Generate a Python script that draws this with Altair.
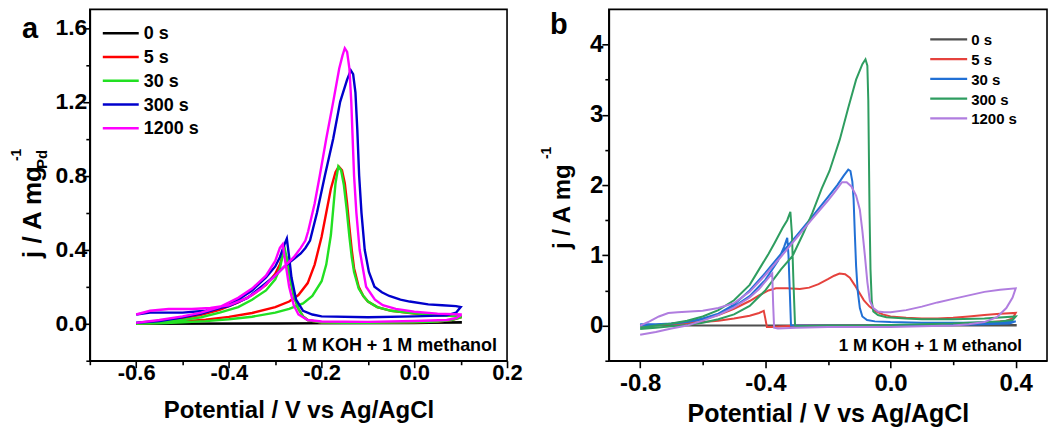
import altair as alt
import pandas as pd

FONT = "Liberation Sans"
SERIES = ["0 s", "5 s", "30 s", "300 s", "1200 s"]
COLORS_A = ["#000000", "#ff0000", "#22e022", "#0000cc", "#ff00ff"]
COLORS_B = ["#4f4f4f", "#e5423d", "#2170d5", "#2e9d60", "#b07ddf"]

# ---------------- panel a : 1 M KOH + 1 M methanol (potential V, j A/mg) ----------------
a0_v = [-0.6, -0.3, 0.0, 0.1, 0.1, -0.3, -0.6]
a0_j = [0.0, 0.002, 0.004, 0.008, 0.006, 0.001, 0.0]

a5_v = [-0.6, -0.55, -0.5, -0.45, -0.4, -0.35, -0.3, -0.27, -0.25, -0.23, -0.215, -0.2, -0.19, -0.18,
        -0.17, -0.163, -0.156, -0.15, -0.145, -0.14, -0.135, -0.13, -0.12, -0.11, -0.1, -0.08, -0.05,
        0.0, 0.05, 0.1,
        0.1, 0.08, 0.05, 0.0, -0.05, -0.1, -0.15, -0.2, -0.23, -0.24, -0.25, -0.26, -0.27, -0.276,
        -0.28, -0.285, -0.29, -0.3, -0.32, -0.35, -0.38, -0.42, -0.46, -0.5, -0.55, -0.6]
a5_j = [0.0, 0.005, 0.012, 0.022, 0.037, 0.058, 0.09, 0.12, 0.155, 0.22, 0.32, 0.47, 0.6, 0.73,
        0.82, 0.85, 0.83, 0.76, 0.65, 0.52, 0.4, 0.3, 0.2, 0.15, 0.12, 0.09, 0.07,
        0.055, 0.045, 0.04,
        0.035, 0.02, 0.012, 0.008, 0.006, 0.005, 0.005, 0.006, 0.02, 0.04, 0.08, 0.15, 0.27, 0.36,
        0.38, 0.36, 0.32, 0.27, 0.21, 0.155, 0.115, 0.075, 0.048, 0.03, 0.012, 0.0]

a30_v = [-0.6, -0.55, -0.5, -0.45, -0.4, -0.35, -0.3, -0.27, -0.24, -0.22, -0.2, -0.19, -0.18, -0.175,
         -0.17, -0.164, -0.158, -0.152, -0.146, -0.14, -0.135, -0.13, -0.12, -0.11, -0.1, -0.08, -0.05,
         0.0, 0.05, 0.1,
         0.1, 0.08, 0.05, 0.0, -0.05, -0.1, -0.15, -0.2, -0.23, -0.24, -0.25, -0.26, -0.27, -0.275,
         -0.279, -0.284, -0.29, -0.3, -0.32, -0.35, -0.38, -0.42, -0.46, -0.5, -0.55, -0.6]
a30_j = [0.0, 0.003, 0.008, 0.014, 0.024, 0.038, 0.06, 0.08, 0.11, 0.15, 0.23, 0.32, 0.48, 0.62,
         0.76, 0.85, 0.83, 0.75, 0.62, 0.47, 0.36, 0.28, 0.19, 0.15, 0.12, 0.09, 0.07,
         0.056, 0.046, 0.04,
         0.035, 0.02, 0.012, 0.008, 0.006, 0.005, 0.005, 0.006, 0.02, 0.04, 0.08, 0.15, 0.27, 0.35,
         0.40, 0.37, 0.3, 0.24, 0.18, 0.13, 0.09, 0.06, 0.035, 0.02, 0.008, 0.0]

a300_v = [-0.6, -0.57, -0.54, -0.5, -0.45, -0.4, -0.36, -0.33, -0.3, -0.28, -0.26, -0.245, -0.235,
          -0.225, -0.21, -0.193, -0.175, -0.16, -0.145, -0.137, -0.132, -0.127, -0.123, -0.119, -0.114,
          -0.107, -0.098, -0.086, -0.07, -0.054, -0.03, -0.01, 0.03, 0.06, 0.09, 0.1,
          0.1, 0.09, 0.07, 0.0, -0.1, -0.2, -0.22, -0.24, -0.255, -0.265, -0.27, -0.275, -0.28, -0.29,
          -0.3, -0.32, -0.35, -0.38, -0.42, -0.46, -0.5, -0.55, -0.6]
a300_j = [0.05, 0.06, 0.06, 0.06, 0.07, 0.095, 0.14, 0.2, 0.26, 0.31, 0.35, 0.38, 0.41,
          0.45, 0.6, 0.8, 1.0, 1.2, 1.32, 1.37, 1.35, 1.25, 1.05, 0.8, 0.6,
          0.4, 0.28, 0.2, 0.17, 0.15, 0.13, 0.12, 0.105, 0.1, 0.095, 0.09,
          0.09, 0.06, 0.045, 0.04, 0.035, 0.04, 0.05, 0.07, 0.13, 0.25, 0.36, 0.46, 0.43, 0.36,
          0.31, 0.25, 0.18, 0.13, 0.085, 0.055, 0.035, 0.015, 0.005]

a1200_v = [-0.6, -0.57, -0.53, -0.48, -0.44, -0.4, -0.36, -0.33, -0.3, -0.28, -0.26, -0.245, -0.235,
           -0.229, -0.215, -0.204, -0.19, -0.175, -0.162, -0.155, -0.15, -0.145, -0.14, -0.136, -0.133,
           -0.13, -0.125, -0.118, -0.104, -0.085, -0.068, -0.04, 0.0, 0.05, 0.1,
           0.1, 0.09, 0.07, 0.0, -0.1, -0.2, -0.23, -0.25, -0.26, -0.27, -0.278, -0.284, -0.29, -0.3,
           -0.32, -0.35, -0.38, -0.42, -0.46, -0.5, -0.55, -0.6]
a1200_j = [0.05, 0.07, 0.08, 0.08, 0.085, 0.1, 0.14, 0.19, 0.26, 0.31, 0.36, 0.41, 0.45,
           0.5, 0.65, 0.8, 1.0, 1.2, 1.38, 1.45, 1.49, 1.47, 1.38, 1.2, 1.0,
           0.8, 0.6, 0.4, 0.2, 0.13, 0.1, 0.08, 0.065, 0.055, 0.05,
           0.045, 0.03, 0.02, 0.015, 0.01, 0.012, 0.02, 0.05, 0.1, 0.2, 0.33, 0.43, 0.41, 0.34,
           0.26, 0.19, 0.14, 0.09, 0.06, 0.04, 0.02, 0.005]

# ---------------- panel b : 1 M KOH + 1 M ethanol ----------------
b0_v = [-0.8, -0.4, 0.0, 0.4, 0.4, 0.0, -0.8]
b0_j = [0.0, 0.0, 0.0, 0.01, 0.0, 0.0, 0.0]

b5_v = [-0.8, -0.75, -0.7, -0.65, -0.6, -0.55, -0.5, -0.45, -0.42, -0.39, -0.366, -0.33, -0.29, -0.26,
        -0.23, -0.2, -0.18, -0.163, -0.145, -0.13, -0.115, -0.1, -0.085, -0.067, -0.045, -0.025, 0.0,
        0.05, 0.1, 0.15, 0.2, 0.25, 0.3, 0.35, 0.4,
        0.4, 0.39, 0.37, 0.3, 0.2, 0.1, 0.0, -0.1, -0.2, -0.3, -0.38, -0.395, -0.4, -0.405, -0.42,
        -0.45, -0.5, -0.55, -0.6, -0.65, -0.7, -0.75, -0.8]
b5_j = [0.0, 0.01, 0.025, 0.05, 0.09, 0.15, 0.24, 0.35, 0.43, 0.5, 0.53, 0.53, 0.52, 0.54,
        0.59, 0.66, 0.71, 0.74, 0.73, 0.68, 0.58, 0.47, 0.36, 0.27, 0.2, 0.16, 0.13,
        0.11, 0.1, 0.1, 0.11, 0.13, 0.15, 0.17, 0.18,
        0.18, 0.1, 0.07, 0.04, 0.02, 0.01, 0.01, 0.01, 0.005, 0.0, -0.02, -0.02, 0.1, 0.21, 0.18,
        0.14, 0.1, 0.07, 0.05, 0.03, 0.02, 0.01, 0.0]

b30_v = [-0.8, -0.75, -0.7, -0.65, -0.6, -0.55, -0.5, -0.45, -0.4, -0.35, -0.3, -0.25, -0.2, -0.17,
         -0.15, -0.135, -0.128, -0.122, -0.118, -0.114, -0.11, -0.105, -0.098, -0.09, -0.075, -0.05,
         0.0, 0.1, 0.2, 0.3, 0.4,
         0.4, 0.38, 0.3, 0.2, 0.0, -0.2, -0.3, -0.318, -0.322, -0.326, -0.33, -0.34, -0.36, -0.4,
         -0.45, -0.5, -0.55, -0.6, -0.65, -0.7, -0.8]
b30_j = [0.02, 0.02, 0.03, 0.05, 0.1, 0.17, 0.3, 0.5, 0.75, 1.02, 1.28, 1.55, 1.83, 2.0,
         2.13, 2.22, 2.2, 2.05, 1.8, 1.3, 0.85, 0.5, 0.25, 0.13, 0.08, 0.06,
         0.05, 0.04, 0.04, 0.045, 0.06,
         0.06, 0.03, 0.02, 0.01, 0.0, 0.0, 0.0, 0.0, 0.5, 1.0, 1.25, 1.12, 0.92, 0.65,
         0.42, 0.27, 0.16, 0.09, 0.05, 0.025, 0.0]

b300_v = [-0.8, -0.75, -0.7, -0.65, -0.6, -0.55, -0.5, -0.45, -0.4, -0.35, -0.313, -0.28, -0.25, -0.22,
          -0.195, -0.162, -0.135, -0.11, -0.09, -0.08, -0.074, -0.071, -0.069, -0.067, -0.064, -0.06,
          -0.055, -0.04, -0.013, 0.05, 0.1, 0.2, 0.3, 0.4,
          0.4, 0.39, 0.35, 0.3, 0.2, 0.1, 0.0, -0.1, -0.2, -0.3, -0.305, -0.31, -0.315, -0.32, -0.33,
          -0.345, -0.37, -0.39, -0.42, -0.45, -0.5, -0.55, -0.6, -0.65, -0.7, -0.75, -0.8]
b300_j = [-0.05, -0.03, -0.01, 0.01, 0.04, 0.09, 0.16, 0.28, 0.5, 0.8, 0.99, 1.3, 1.6, 1.95,
          2.2, 2.65, 3.1, 3.5, 3.72, 3.79, 3.7, 3.2, 2.4, 1.6, 0.8, 0.35,
          0.2, 0.15, 0.12, 0.1, 0.09, 0.09, 0.1, 0.13,
          0.13, 0.08, 0.06, 0.05, 0.03, 0.02, 0.01, 0.0, 0.0, -0.01, 0.0, 0.6, 1.3, 1.62, 1.5,
          1.39, 1.18, 1.02, 0.8, 0.58, 0.36, 0.22, 0.13, 0.07, 0.03, 0.0, -0.03]

b1200_v = [-0.8, -0.77, -0.74, -0.71, -0.68, -0.64, -0.6, -0.55, -0.5, -0.45, -0.4, -0.35, -0.3, -0.25,
           -0.2, -0.175, -0.155, -0.14, -0.125, -0.11, -0.098, -0.09, -0.082, -0.074, -0.066, -0.055,
           -0.04, -0.02, 0.0, 0.05, 0.1, 0.15, 0.2, 0.25, 0.3, 0.35, 0.4,
           0.4, 0.39, 0.37, 0.34, 0.3, 0.25, 0.2, 0.1, 0.0, -0.1, -0.2, -0.3, -0.36, -0.372, -0.375,
           -0.378, -0.39, -0.42, -0.45, -0.5, -0.55, -0.6, -0.65, -0.7, -0.75, -0.8]
b1200_j = [0.0, 0.06, 0.13, 0.18, 0.19, 0.2, 0.21, 0.25, 0.32, 0.48, 0.72, 0.98, 1.25, 1.52,
           1.78, 1.92, 2.04, 2.04, 1.98, 1.85, 1.65, 1.35, 1.0, 0.62, 0.35, 0.25,
           0.2, 0.19, 0.19, 0.22, 0.27, 0.33, 0.38, 0.43, 0.48, 0.51, 0.53,
           0.53, 0.4, 0.25, 0.12, 0.05, 0.02, 0.0, -0.01, -0.02, -0.02, -0.02, -0.03, -0.04, -0.03, 0.3,
           0.74, 0.68, 0.52, 0.4, 0.26, 0.15, 0.07, 0.0, -0.04, -0.09, -0.13]

# axis tick values and texts
A_XTICKS = [-0.7, -0.6, -0.5, -0.4, -0.3, -0.2, -0.1, 0.0, 0.1, 0.2]
A_YTICKS = [-0.2, 0.0, 0.2, 0.4, 0.6, 0.8, 1.0, 1.2, 1.4, 1.6]
B_XTICKS = [-0.8, -0.6, -0.4, -0.2, 0.0, 0.2, 0.4]
B_YTICKS = [-0.5, 0.0, 0.5, 1.0, 1.5, 2.0, 2.5, 3.0, 3.5, 4.0]
X_TITLE = "Potential / V vs Ag/AgCl"
A_NOTE = "1 M KOH + 1 M methanol"
B_NOTE = "1 M KOH + 1 M ethanol"


def build(series_data):
    rows = []
    for name, (vs, js) in zip(SERIES, series_data):
        for k, (v, j) in enumerate(zip(vs, js)):
            rows.append({"series": name, "v": v, "j": j, "k": k})
    return pd.DataFrame(rows)


df_a = build([(a0_v, a0_j), (a5_v, a5_j), (a30_v, a30_j), (a300_v, a300_j), (a1200_v, a1200_j)])
df_b = build([(b0_v, b0_j), (b5_v, b5_j), (b30_v, b30_j), (b300_v, b300_j), (b1200_v, b1200_j)])
leg_df = pd.DataFrame({"series": SERIES, "row": list(range(len(SERIES)))})


def axis(values, test, fmt, size, pad, title=None, tsize=24, ty=57):
    lab = f"({test}) ? (datum.value < -0.001 ? '-' : '') + format(abs(datum.value), '{fmt}') : ''"
    kw = dict(values=values, labelExpr=lab,
              tickSize={"condition": {"test": test, "value": 7}, "value": 4},
              tickWidth=1.6, tickColor="black", domainColor="black", domainWidth=1.6,
              labelFont=FONT, labelFontSize=size, labelFontWeight="bold", labelColor="black",
              labelPadding=pad, grid=False, labelFlush=False, labelOverlap=False)
    if title:
        kw.update(title=title, titleFont=FONT, titleFontSize=tsize, titleFontWeight="bold",
                  titleColor="black", titleY=ty, titleBaseline="alphabetic")
    else:
        kw["title"] = None
    return alt.Axis(**kw)


one = pd.DataFrame({"d": [0]})


def txt(text, x, y, size, angle=None, align="left", baseline="alphabetic"):
    kw = dict(text=text, font=FONT, fontSize=size, fontWeight="bold", color="black",
              align=align, baseline=baseline)
    if angle is not None:
        kw["angle"] = angle
    return alt.Chart(one).mark_text(**kw).encode(x=alt.value(x), y=alt.value(y))


def spacer(x, y1, y2):
    return alt.Chart(one).mark_rule(opacity=0, strokeWidth=0).encode(
        x=alt.value(x), y=alt.value(y1), y2=alt.value(y2))


# ---------------- panel a ----------------
sc_a = alt.Scale(domain=SERIES, range=COLORS_A)
lines_a = alt.Chart(df_a).mark_line(strokeWidth=2.4).encode(
    x=alt.X("v:Q", scale=alt.Scale(domain=[-0.7, 0.2], nice=False, zero=False),
            axis=axis(A_XTICKS, "abs(round(datum.value*10)) % 2 == 0", ".1f", 22, -5, X_TITLE, 24, 57)),
    y=alt.Y("j:Q", scale=alt.Scale(domain=[-0.2, 1.7], nice=False, zero=False),
            axis=axis(A_YTICKS, "abs(round(datum.value*10)) % 4 == 0", ".1f", 23, -4)),
    color=alt.Color("series:N", scale=sc_a, legend=None),
    order="k:Q",
    detail="series:N",
)
leg_a_base = alt.Chart(leg_df).transform_calculate(ly="24 + datum.row * 23.8")
leg_a = leg_a_base.mark_rule(strokeWidth=2.5).encode(
    x=alt.value(13), x2=alt.value(49), y=alt.Y("ly:Q", scale=None),
    color=alt.Color("series:N", scale=sc_a, legend=None))
leg_a_t = leg_a_base.mark_text(font=FONT, fontSize=18, fontWeight="bold", align="left",
                               baseline="middle", color="black", dy=1).encode(
    x=alt.value(54), y=alt.Y("ly:Q", scale=None), text="series:N")

panel_a = alt.layer(
    lines_a, leg_a, leg_a_t,
    txt(A_NOTE, 408, 342, 18, align="right"),
    txt("a", -68, 29, 29),
    txt("j / A mg", -49, 249, 26, angle=270),
    txt("Pd", -43, 160, 15, angle=270),
    txt("-1", -69, 152, 14, angle=270),
    spacer(-89, -8, 422),
).properties(width=418, height=352)

# ---------------- panel b ----------------
sc_b = alt.Scale(domain=SERIES, range=COLORS_B)
lines_b = alt.Chart(df_b).mark_line(strokeWidth=2.0).encode(
    x=alt.X("v:Q", scale=alt.Scale(domain=[-0.9, 0.5], nice=False, zero=False),
            axis=axis(B_XTICKS, "abs(round(datum.value*10)) % 4 == 0", ".1f", 24, 4, X_TITLE, 25, 61)),
    y=alt.Y("j:Q", scale=alt.Scale(domain=[-0.5, 4.5], nice=False, zero=False),
            axis=axis(B_YTICKS, "abs(round(datum.value*2)) % 2 == 0", ".0f", 24, -1)),
    color=alt.Color("series:N", scale=sc_b, legend=None),
    order="k:Q",
    detail="series:N",
)
leg_b_base = alt.Chart(leg_df).transform_calculate(ly="30 + datum.row * 19.8")
leg_b = leg_b_base.mark_rule(strokeWidth=2.2).encode(
    x=alt.value(322), x2=alt.value(359), y=alt.Y("ly:Q", scale=None),
    color=alt.Color("series:N", scale=sc_b, legend=None))
leg_b_t = leg_b_base.mark_text(font=FONT, fontSize=15, fontWeight="bold", align="left",
                               baseline="middle", color="black", dy=1).encode(
    x=alt.value(363), y=alt.Y("ly:Q", scale=None), text="series:N")

panel_b = alt.layer(
    lines_b, leg_b, leg_b_t,
    txt(B_NOTE, 414, 342, 17, align="right"),
    txt("b", -59, 25, 29),
    txt("j / A mg", -39, 240, 24, angle=270),
    txt("-1", -58, 150, 14, angle=270),
    spacer(443, -8, 422),
).properties(width=439, height=352)

chart = alt.hconcat(panel_a, panel_b, spacing=102, bounds="flush").resolve_scale(
    x="independent", y="independent", color="independent"
).properties(padding=0).configure_view(stroke="black", strokeWidth=1.6)

chart.save("out.html", embed_options={"renderer": "svg", "actions": False})
